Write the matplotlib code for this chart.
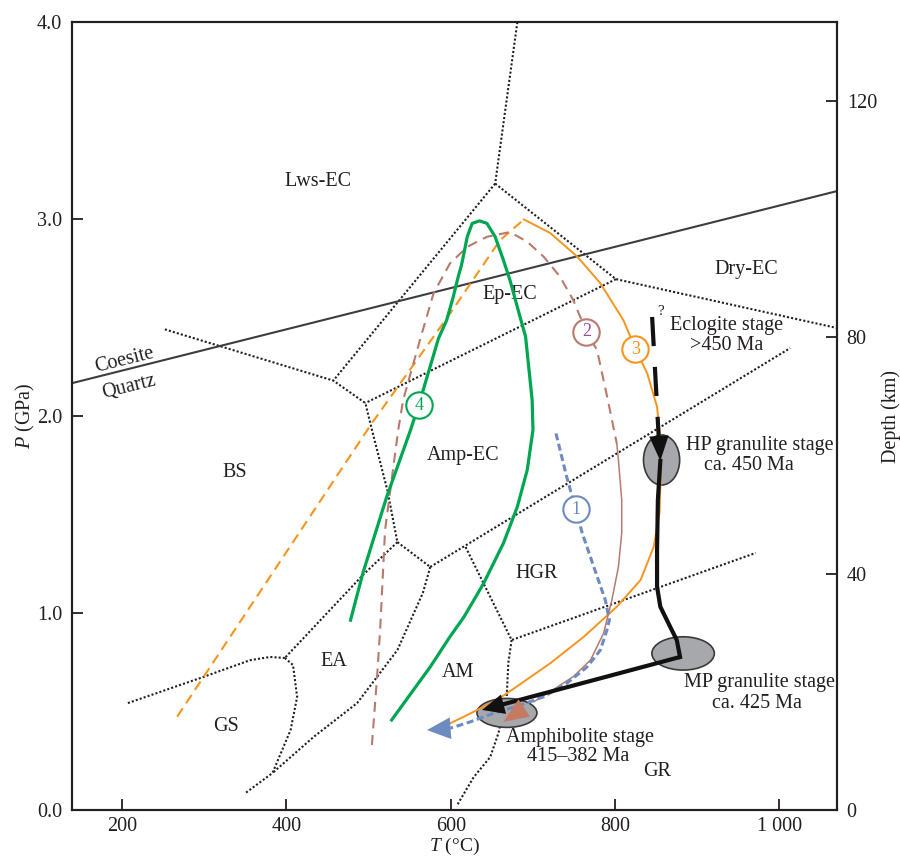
import numpy as np
import matplotlib.pyplot as plt
from matplotlib.patches import Ellipse

plt.rcParams['font.family'] = ['Liberation Serif', 'DejaVu Serif']
plt.rcParams['mathtext.fontset'] = 'custom'
plt.rcParams['mathtext.rm'] = 'Liberation Serif'
plt.rcParams['mathtext.it'] = 'Liberation Serif:italic'

ink = '#231f20'

# --- facies boundaries (T in degC, P in GPa) ---
b1_T = [681, 654];  b1_P = [4.0, 3.18]
b2_T = [654, 457];  b2_P = [3.18, 2.18]
b3_T = [654, 801, 1070];  b3_P = [3.18, 2.695, 2.447]
b4_T = [801, 496];  b4_P = [2.695, 2.066]
b5_T = [252, 457, 496, 504, 523, 535];  b5_P = [2.44, 2.18, 2.066, 1.93, 1.62, 1.36]
b6_T = [535, 575];  b6_P = [1.36, 1.234]
b7_T = [535, 493, 398];  b7_P = [1.36, 1.193, 0.772]
b8_T = [207, 295, 356, 380, 398];  b8_P = [0.543, 0.670, 0.761, 0.777, 0.772]
b9_T = [398, 408, 413, 405, 383, 350];  b9_P = [0.772, 0.736, 0.574, 0.406, 0.188, 0.086]
b10_T = [575, 566, 535, 486, 433, 383];  b10_P = [1.234, 1.102, 0.812, 0.543, 0.371, 0.188]
b11_T = [575, 1013];  b11_P = [1.234, 2.345]
b12_T = [618, 674, 971];  b12_P = [1.335, 0.863, 1.305]
b13_T = [674, 670, 668, 658, 648, 628, 607];  b13_P = [0.863, 0.746, 0.574, 0.391, 0.269, 0.168, 0.02]
facies = [(b1_T, b1_P), (b2_T, b2_P), (b3_T, b3_P), (b4_T, b4_P), (b5_T, b5_P),
          (b6_T, b6_P), (b7_T, b7_P), (b8_T, b8_P), (b9_T, b9_P), (b10_T, b10_P),
          (b11_T, b11_P), (b12_T, b12_P), (b13_T, b13_P)]

coe_T = [139, 1070];  coe_P = [2.167, 3.142]

facies_names = ['Lws-EC', 'Dry-EC', 'Ep-EC', 'Amp-EC', 'BS', 'HGR', 'EA', 'AM', 'GS', 'GR']
facies_T = [438, 960, 672, 615, 337, 704, 458, 609, 326, 851]
facies_P = [3.19, 2.746, 2.619, 1.802, 1.713, 1.201, 0.755, 0.698, 0.423, 0.195]

# --- P-T paths ---
# path 1 (blue)
blue_T = [728, 741, 752, 760, 774, 788, 793, 790, 782, 766, 741, 713, 685, 652, 624, 599]
blue_P = [1.912, 1.692, 1.528, 1.405, 1.235, 1.066, 0.964, 0.914, 0.812, 0.727, 0.643, 0.575, 0.533, 0.491, 0.448, 0.415]
blue_tip = (571, 0.406)

# path 2 (brown)
brown_pro_T = [504, 510, 514, 520, 536, 542, 563, 579, 599, 620, 644, 672, 693, 713, 733, 749, 765, 778, 792, 802]
brown_pro_P = [0.330, 0.660, 0.914, 1.421, 1.929, 2.081, 2.394, 2.623, 2.775, 2.859, 2.910, 2.934, 2.885, 2.809, 2.707, 2.589, 2.428, 2.335, 2.064, 1.860]
brown_ret_T = [802, 804, 808, 808, 804, 796, 786, 770, 749, 721, 701]
brown_ret_P = [1.860, 1.777, 1.574, 1.406, 1.235, 1.066, 0.898, 0.761, 0.677, 0.601, 0.550]
brown_tip = (664, 0.448)

# path 3 (orange)
orange_pro_T = [267, 504, 599, 660, 689]
orange_pro_P = [0.474, 1.964, 2.520, 2.893, 2.998]
orange_ret_T = [689, 721, 754, 782, 810, 825, 839, 851, 855, 856, 854, 847, 831, 802, 762, 721, 680, 656, 616, 599, 593]
orange_ret_P = [2.998, 2.929, 2.809, 2.674, 2.487, 2.339, 2.217, 2.047, 1.878, 1.777, 1.508, 1.337, 1.168, 1.032, 0.880, 0.745, 0.626, 0.558, 0.474, 0.440, 0.421]

# path 4 (green)
green_T = [528, 575, 599, 616, 640, 664, 681, 693, 700, 699, 691, 682, 672, 664, 654, 644, 635, 626, 620, 616, 613, 609, 603, 595, 585, 561, 551, 522, 493, 478]
green_P = [0.457, 0.727, 0.880, 0.980, 1.151, 1.354, 1.540, 1.726, 1.929, 2.081, 2.403, 2.538, 2.690, 2.792, 2.910, 2.978, 2.991, 2.978, 2.910, 2.826, 2.766, 2.707, 2.606, 2.487, 2.394, 2.056, 1.929, 1.590, 1.203, 0.964]

# this study (black)
black_dash_T = [845, 853];  black_dash_P = [2.503, 1.895]
black_hp_tip = (855, 1.772)
black_T = [855, 852, 851, 851, 855, 867, 875, 879]
black_P = [1.772, 1.574, 1.320, 1.134, 1.032, 0.930, 0.863, 0.777]
black_amph_tip = (638, 0.508)

# stage ellipses: centre T, centre P, width, height
stage_T = [856.5, 882.7, 668.3]
stage_P = [1.777, 0.795, 0.493]
stage_w = [44, 76, 73]
stage_h = [0.254, 0.169, 0.147]

# path number circles
num_labels = ['1', '2', '3', '4']
num_T = [752, 765, 824.5, 561]
num_P = [1.528, 2.428, 2.339, 2.056]

c_green = '#00a651'
c_orange = '#f7941d'
c_brown = '#b87a6c'
c_blue = '#6d8bc0'
c_purple = '#a2449a'

fig = plt.figure(figsize=(9, 8.59), dpi=100)
ax = fig.add_axes([0.08, 0.057, 0.85, 0.9173])

for T, P in facies:
    ax.plot(T, P, color=ink, lw=1.5, linestyle=(0, (1, 1)), zorder=1)
ax.plot(coe_T, coe_P, color='#3d3d3d', lw=1.5, zorder=2)

for t, x, y in zip(facies_names, facies_T, facies_P):
    ax.text(x, y, t, ha='center', va='center', fontsize=14.5, color=ink, zorder=3)
ax.text(203, 2.284, 'Coesite', rotation=14, ha='center', va='center', fontsize=14.5, color=ink)
ax.text(208, 2.149, 'Quartz', rotation=14, ha='center', va='center', fontsize=14.5, color=ink)

for x, y, w, h in zip(stage_T, stage_P, stage_w, stage_h):
    ax.add_patch(Ellipse((x, y), w, h, facecolor='#a6a8ab', edgecolor='#3a3a3a', lw=1.2, zorder=4))

# paths
ax.plot(orange_pro_T, orange_pro_P, color=c_orange, lw=1.5, linestyle=(0, (4.8, 2.9)), zorder=5)
ax.plot(orange_ret_T, orange_ret_P, color=c_orange, lw=1.4, zorder=5)
ax.plot(brown_pro_T, brown_pro_P, color=c_brown, lw=1.5, linestyle=(0, (4.8, 3.2)), zorder=5)
ax.plot(brown_ret_T, brown_ret_P, color=c_brown, lw=1.1, zorder=5)
ax.plot(blue_T, blue_P, color=c_blue, lw=2.2, linestyle=(0, (2.3, 1.2)), zorder=6)
ax.plot(green_T, green_P, color=c_green, lw=2.3, zorder=6)


def head(tip, start, color, hl, hw):
    ax.annotate('', xy=tip, xytext=start, zorder=8,
                arrowprops=dict(arrowstyle='-|>,head_length=%s,head_width=%s' % (hl, hw),
                                mutation_scale=10, color=color, lw=0, shrinkA=0, shrinkB=0))


head(brown_tip, (brown_ret_T[-1], brown_ret_P[-1]), '#c47a63', 1.8, 0.75)
head(blue_tip, (blue_T[-1], blue_P[-1]), c_blue, 1.7, 0.78)

# black path
ax.plot(black_dash_T, black_dash_P, color='#111111', lw=3, linestyle=(0, (7, 5)),
        solid_capstyle='butt', zorder=7)
ax.plot(black_T, black_P, color='#111111', lw=3, zorder=7, solid_joinstyle='round')
cx, cy = black_T[-1], black_P[-1]
tx, ty = black_amph_tip
ax.plot([cx, tx + 0.08 * (cx - tx)], [cy, ty + 0.08 * (cy - ty)], color='#111111', lw=3,
        solid_capstyle='butt', zorder=7)
head(black_hp_tip, (black_dash_T[0], black_dash_P[0]), '#111111', 1.8, 0.7)
head(black_amph_tip, (cx, cy), '#111111', 1.6, 0.72)

for t, x, y, c, tc in zip(num_labels, num_T, num_P,
                          [c_blue, c_brown, c_orange, c_green],
                          [c_blue, c_purple, c_orange, c_green]):
    ax.plot(x, y, 'o', ms=19, mfc='white', mec=c, mew=1.5, zorder=9)
    ax.text(x, y, t, ha='center', va='center', fontsize=13, color=tc, zorder=10)

ax.text(855, 2.53, '?', ha='center', va='center', fontsize=11, color=ink)
ax.text(935, 2.462, 'Eclogite stage', ha='center', va='center', fontsize=14.5, color=ink)
ax.text(936, 2.36, '>450 Ma', ha='center', va='center', fontsize=14.5, color=ink)
ax.text(976, 1.849, 'HP granulite stage', ha='center', va='center', fontsize=14.5, color=ink)
ax.text(963, 1.751, 'ca. 450 Ma', ha='center', va='center', fontsize=14.5, color=ink)
ax.text(976, 0.647, 'MP granulite stage', ha='center', va='center', fontsize=14.5, color=ink)
ax.text(973, 0.542, 'ca. 425 Ma', ha='center', va='center', fontsize=14.5, color=ink)
ax.text(757, 0.368, 'Amphibolite stage', ha='center', va='center', fontsize=14.5, color=ink)
ax.text(755, 0.271, '415\u2013382 Ma', ha='center', va='center', fontsize=14.5, color=ink)

ax.set_xlim(139, 1070)
ax.set_ylim(0, 4.0)
ax.set_xticks([200, 400, 600, 800, 1000])
ax.set_xticklabels(['200', '400', '600', '800', '1 000'])
ax.set_yticks([0, 1, 2, 3, 4])
ax.set_yticklabels(['0.0', '1.0', '2.0', '3.0', '4.0'])
ax.tick_params(direction='in', length=8, width=1.3, labelsize=14.5, pad=7, colors=ink,
               top=False, right=False)
ax.tick_params(axis='x', pad=5)
for s in ax.spines.values():
    s.set_linewidth(1.5)
    s.set_color(ink)
ax.set_xlabel(r'$\mathit{T}$ (°C)', fontsize=14, labelpad=0, color=ink)
ax.set_ylabel(r'$\mathit{P}$ (GPa)', fontsize=14.5, labelpad=0, color=ink)

ax2 = ax.twinx()
ax2.set_ylim(0, 133.3)
ax2.set_yticks([0, 40, 80, 120])
ax2.tick_params(direction='in', length=8, width=1.3, labelsize=14.5, pad=7, colors=ink)
for s in ax2.spines.values():
    s.set_linewidth(1.5)
    s.set_color(ink)
ax2.set_ylabel('Depth (km)', fontsize=14.5, labelpad=3, color=ink)

fig.savefig('out.png', dpi=100)
